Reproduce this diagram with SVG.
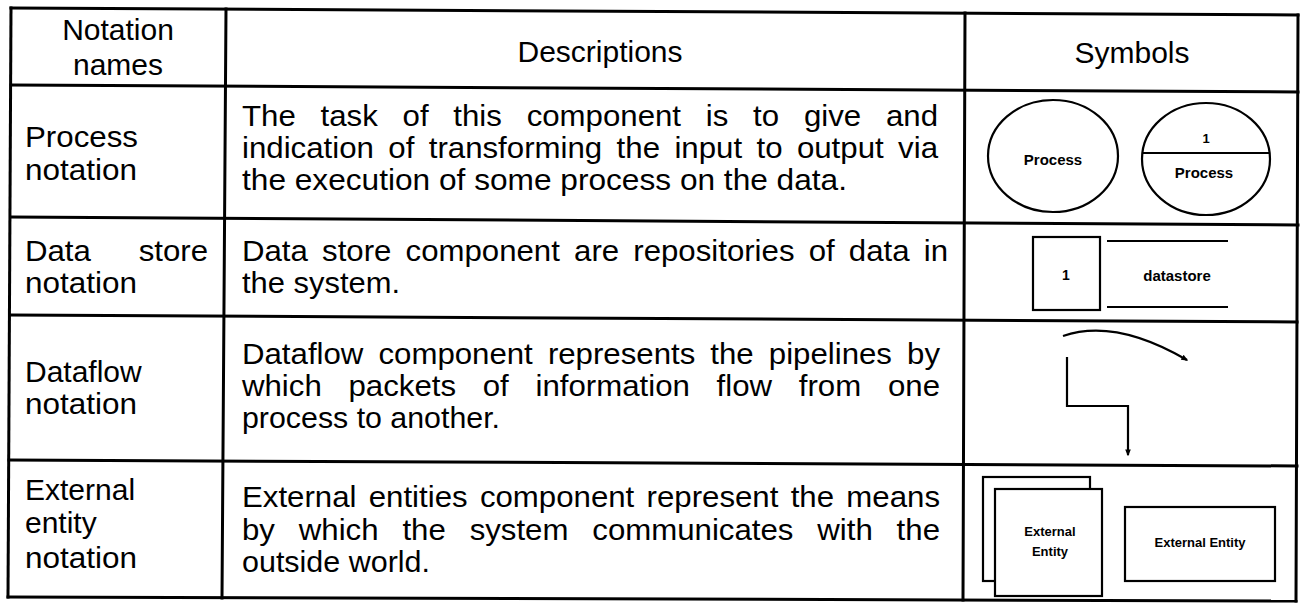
<svg xmlns="http://www.w3.org/2000/svg" width="1302" height="603" viewBox="0 0 1302 603">
<defs>
<style>
.t{font-family:"Liberation Sans",Arial,sans-serif;font-size:30px;fill:#000}
.s{font-family:"Liberation Sans",Arial,sans-serif;font-weight:bold;fill:#000}
.g{stroke:#000;stroke-width:3;fill:none;stroke-linecap:square}
.sym{stroke:#000;stroke-width:2.2;fill:none}
.front{fill:#fff}
</style>
<marker id="ah" viewBox="0 0 10 10" refX="8" refY="5" markerWidth="7" markerHeight="7" orient="auto" markerUnits="userSpaceOnUse">
<path d="M0,1 L10,5 L0,9 z" fill="#000"/>
</marker>
</defs>
<rect width="1302" height="603" fill="#fff"/>
<g id="grid">
<line class="g" x1="11" y1="8" x2="1298" y2="15"/>
<line class="g" x1="11" y1="85" x2="1298" y2="92"/>
<line class="g" x1="11" y1="217" x2="1298" y2="225"/>
<line class="g" x1="10" y1="315" x2="1297" y2="322"/>
<line class="g" x1="9" y1="460" x2="1297" y2="466"/>
<line class="g" x1="8" y1="597" x2="1296" y2="601"/>
<line class="g" x1="11" y1="8" x2="8" y2="597"/>
<line class="g" x1="226" y1="9" x2="222" y2="598"/>
<line class="g" x1="965" y1="13" x2="963" y2="600"/>
<line class="g" x1="1298" y1="15" x2="1296" y2="601"/>
</g>
<g id="header">
<text class="t" x="118" y="40" text-anchor="middle">Notation</text>
<text class="t" x="118" y="75" text-anchor="middle">names</text>
<text class="t" x="600" y="62" text-anchor="middle">Descriptions</text>
<text class="t" x="1132" y="63" text-anchor="middle">Symbols</text>
</g>
<g id="row-process">
<text class="t" x="25" y="147" textLength="113" lengthAdjust="spacingAndGlyphs">Process</text>
<text class="t" x="25" y="180" textLength="112" lengthAdjust="spacingAndGlyphs">notation</text>
<text class="t" x="242" y="126" word-spacing="15.5" textLength="696" lengthAdjust="spacingAndGlyphs">The task of this component is to give and</text>
<text class="t" x="242" y="158" word-spacing="5.5" textLength="696" lengthAdjust="spacingAndGlyphs">indication of transforming the input to output via</text>
<text class="t" x="242" y="190" textLength="605" lengthAdjust="spacingAndGlyphs">the execution of some process on the data.</text>
</g>
<g id="symbol-process">
<ellipse class="sym" cx="1053" cy="156" rx="65" ry="56"/>
<text class="s" x="1053" y="165" font-size="15" text-anchor="middle">Process</text>
<ellipse class="sym" cx="1206" cy="159" rx="64" ry="56"/>
<line class="sym" x1="1143" y1="153" x2="1269" y2="153"/>
<text class="s" x="1206" y="143" font-size="13" text-anchor="middle">1</text>
<text class="s" x="1204" y="178" font-size="15" text-anchor="middle">Process</text>
</g>
<g id="row-datastore">
<text class="t" x="25" y="261" word-spacing="37.6" textLength="183" lengthAdjust="spacingAndGlyphs">Data store</text>
<text class="t" x="25" y="293" textLength="112" lengthAdjust="spacingAndGlyphs">notation</text>
<text class="t" x="242" y="261" word-spacing="5.3" textLength="706" lengthAdjust="spacingAndGlyphs">Data store component are repositories of data in</text>
<text class="t" x="242" y="293" textLength="158" lengthAdjust="spacingAndGlyphs">the system.</text>
</g>
<g id="symbol-datastore">
<rect class="sym" x="1033" y="237" width="67" height="73"/>
<text class="s" x="1066" y="280" font-size="14" text-anchor="middle">1</text>
<line class="sym" x1="1107" y1="241" x2="1228" y2="241"/>
<line class="sym" x1="1107" y1="307" x2="1228" y2="307"/>
<text class="s" x="1177" y="281" font-size="15" text-anchor="middle">datastore</text>
</g>
<g id="row-dataflow">
<text class="t" x="25" y="382">Dataflow</text>
<text class="t" x="25" y="414" textLength="112" lengthAdjust="spacingAndGlyphs">notation</text>
<text class="t" x="242" y="364" word-spacing="6.2" textLength="698" lengthAdjust="spacingAndGlyphs">Dataflow component represents the pipelines by</text>
<text class="t" x="242" y="396" word-spacing="17.4" textLength="698" lengthAdjust="spacingAndGlyphs">which packets of information flow from one</text>
<text class="t" x="242" y="428" textLength="258" lengthAdjust="spacingAndGlyphs">process to another.</text>
</g>
<g id="connectors">
<path class="sym" d="M1063,336 Q1115,318 1187,360" marker-end="url(#ah)"/>
<path class="sym" d="M1067,357 V406 H1128 V455" marker-end="url(#ah)"/>
</g>
<g id="row-external">
<text class="t" x="25" y="500">External</text>
<text class="t" x="25" y="533">entity</text>
<text class="t" x="25" y="568" textLength="112" lengthAdjust="spacingAndGlyphs">notation</text>
<text class="t" x="242" y="507" word-spacing="3.5" textLength="698" lengthAdjust="spacingAndGlyphs">External entities component represent the means</text>
<text class="t" x="242" y="540" word-spacing="14.6" textLength="698" lengthAdjust="spacingAndGlyphs">by which the system communicates with the</text>
<text class="t" x="242" y="572" textLength="188" lengthAdjust="spacingAndGlyphs">outside world.</text>
</g>
<g id="symbol-external">
<rect class="sym" x="983" y="477" width="107" height="104"/>
<rect class="sym front" x="995" y="489" width="107" height="107"/>
<text class="s" x="1050" y="536" font-size="13" text-anchor="middle">External</text>
<text class="s" x="1050" y="556" font-size="13" text-anchor="middle">Entity</text>
<rect class="sym" x="1125" y="507" width="150" height="74"/>
<text class="s" x="1200" y="547" font-size="13" text-anchor="middle">External Entity</text>
</g>
</svg>
